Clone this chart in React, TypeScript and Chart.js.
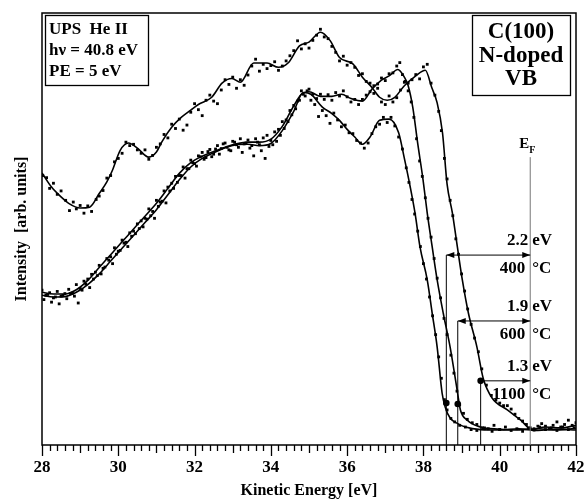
import React, { useEffect, useRef } from 'react';
import { Chart, registerables } from 'chart.js';

Chart.register(...registerables);

const FONT = '"Liberation Serif", "Times New Roman", serif';

// ---- axis ----
const xMin = 28;
const xMax = 42;
const xStep = 2;

// ---- annotation values ----
const fermiLevel = 40.8;
const gaps = [2.2, 1.9, 1.3];
const temps = ['400', '600', '1100'];
const onsetIntensity = [9.8, 9.6, 15.0];
const arrowLevels = [44.4, 29.0, 15.0];

// ---- smoothed spectra ----
const line1100X = [28.0, 28.25, 28.5, 28.7, 29.0, 29.25, 29.5, 29.7, 29.85, 30.05, 30.27, 30.5, 30.8, 31.0, 31.15, 31.4, 31.65, 31.9, 32.1, 32.45, 32.72, 32.98, 33.2, 33.55, 33.9, 34.2, 34.45, 34.75, 35.0, 35.3, 35.55, 35.8, 36.15, 36.4, 36.65, 36.85, 37.05, 37.25, 37.5, 37.8, 38.05, 38.22, 38.36, 38.5, 38.62, 38.76, 38.89, 39.02, 39.18, 39.4, 39.57, 39.8, 40.2, 40.55, 40.85, 41.2, 41.6, 42.0];
const line1100Y = [63.6, 60.3, 58.0, 56.5, 55.4, 55.6, 58.8, 61.5, 64.3, 68.9, 70.6, 69.4, 67.3, 68.5, 71.0, 74.3, 76.6, 78.3, 79.6, 81.3, 84.6, 85.7, 84.8, 89.3, 89.3, 88.3, 89.3, 93.3, 94.2, 96.5, 94.6, 90.6, 89.1, 86.0, 83.6, 81.3, 80.6, 81.3, 84.0, 86.3, 87.6, 83.5, 80.0, 73.0, 61.0, 54.2, 46.3, 38.6, 30.8, 23.0, 15.5, 11.0, 8.2, 5.8, 3.6, 4.2, 4.0, 4.6];

const line600X = [28.0, 28.3, 28.6, 28.9, 29.2, 29.5, 29.8, 30.1, 30.4, 30.7, 31.0, 31.3, 31.6, 31.9, 32.2, 32.5, 32.8, 33.1, 33.4, 33.7, 34.0, 34.3, 34.55, 34.8, 35.0, 35.3, 35.6, 35.85, 36.1, 36.4, 36.65, 36.9, 37.1, 37.33, 37.5, 37.6, 37.72, 37.85, 37.99, 38.1, 38.23, 38.36, 38.52, 38.7, 38.89, 38.97, 39.15, 39.5, 40.0, 40.4, 41.0, 41.5, 42.0];
const line600Y = [35.7, 35.3, 35.3, 36.3, 38.5, 41.5, 44.5, 47.5, 50.5, 53.5, 56.5, 60.0, 63.5, 66.0, 67.5, 68.6, 69.6, 70.4, 70.8, 70.8, 71.5, 74.5, 78.5, 82.0, 82.6, 81.5, 81.5, 82.0, 81.0, 80.4, 83.2, 85.3, 86.3, 87.8, 86.0, 84.0, 79.0, 70.5, 62.0, 54.2, 46.3, 38.6, 30.8, 22.9, 12.5, 8.2, 5.8, 4.2, 3.7, 3.5, 3.8, 3.5, 3.9];

const line400X = [28.0, 28.3, 28.6, 28.9, 29.2, 29.5, 29.8, 30.1, 30.4, 30.7, 31.0, 31.3, 31.6, 31.9, 32.2, 32.5, 32.8, 33.1, 33.4, 33.7, 34.0, 34.3, 34.6, 34.85, 35.05, 35.35, 35.6, 35.8, 36.0, 36.2, 36.4, 36.6, 36.85, 37.1, 37.35, 37.5, 37.65, 37.78, 37.91, 38.1, 38.23, 38.36, 38.49, 38.57, 38.7, 38.9, 39.1, 39.5, 40.0, 40.5, 41.0, 41.5, 42.0];
const line400Y = [35.0, 34.6, 34.7, 35.7, 37.5, 40.0, 43.0, 46.0, 49.0, 52.0, 55.0, 58.5, 62.0, 65.0, 67.0, 68.3, 69.5, 70.2, 70.3, 70.0, 70.5, 73.5, 78.0, 82.4, 82.0, 79.0, 77.5, 75.9, 73.8, 72.0, 70.3, 72.0, 75.9, 76.2, 73.0, 67.0, 60.5, 54.2, 46.3, 38.6, 30.8, 22.9, 12.1, 8.9, 6.3, 5.0, 4.2, 3.6, 3.5, 3.8, 3.4, 3.7, 3.5];

// ---- measured points ----
const dots1100 = [[28.02,63.0],[28.12,62.5],[28.2,60.0],[28.3,61.2],[28.4,58.6],[28.5,59.4],[28.62,57.2],[28.72,54.8],[28.82,56.8],[28.9,55.2],[29.0,56.0],[29.1,54.2],[29.2,55.9],[29.3,54.6],[29.42,57.4],[29.5,58.2],[29.6,59.5],[29.7,62.4],[29.8,63.0],[29.9,66.2],[30.0,67.0],[30.1,68.2],[30.2,70.8],[30.3,70.0],[30.4,70.3],[30.5,69.0],[30.6,68.2],[30.7,69.0],[30.8,66.8],[30.9,67.7],[31.0,69.6],[31.1,70.4],[31.2,72.6],[31.3,71.8],[31.4,75.0],[31.5,74.0],[31.6,76.2],[31.7,73.6],[31.8,74.8],[31.9,77.8],[32.0,79.8],[32.1,78.4],[32.2,77.0],[32.3,80.6],[32.4,81.8],[32.5,80.4],[32.6,79.8],[32.7,83.0],[32.8,85.4],[32.9,84.3],[33.0,86.0],[33.1,83.4],[33.2,85.4],[33.3,84.1],[33.4,86.5],[33.5,88.6],[33.6,90.2],[33.7,87.4],[33.8,89.0],[33.9,88.0],[34.0,88.7],[34.1,89.6],[34.2,87.6],[34.3,88.6],[34.4,89.8],[34.5,91.0],[34.6,92.2],[34.7,94.5],[34.8,92.6],[34.9,93.8],[35.0,92.8],[35.1,94.6],[35.2,95.8],[35.3,97.2],[35.4,95.4],[35.5,95.0],[35.6,93.2],[35.7,91.8],[35.8,89.8],[35.9,90.9],[36.0,88.8],[36.1,89.4],[36.2,88.3],[36.3,86.4],[36.4,86.8],[36.5,85.0],[36.6,84.6],[36.7,82.2],[36.8,83.4],[36.9,80.2],[37.0,79.6],[37.1,81.6],[37.2,80.2],[37.3,81.2],[37.4,83.0],[37.5,84.8],[37.6,84.6],[37.7,85.4],[37.8,86.6],[37.9,85.6],[38.0,88.4],[38.1,89.0],[38.2,84.6],[38.3,81.8],[38.4,78.0],[38.47,73.5],[38.55,67.0],[38.62,62.2],[38.7,57.2],[38.77,53.6],[38.85,48.2],[38.92,44.6],[39.0,40.0],[39.08,36.0],[39.16,31.8],[39.25,28.2],[39.34,25.0],[39.44,21.8],[39.53,17.8],[39.65,14.0],[39.78,11.6],[39.9,10.5],[40.0,9.8],[40.1,9.2],[40.2,9.2],[40.3,8.4],[40.4,7.2],[40.5,6.2],[40.6,5.6],[40.7,4.8],[40.8,4.0],[40.9,3.8],[41.0,4.4],[41.1,5.0],[41.2,4.4],[41.3,3.8],[41.4,4.6],[41.5,5.4],[41.6,4.2],[41.7,4.8],[41.8,5.8],[41.9,4.6],[42.0,5.2]];

const dots600 = [[28.0,36.2],[28.1,35.0],[28.2,35.6],[28.3,34.4],[28.4,35.9],[28.5,34.8],[28.6,35.4],[28.7,36.4],[28.8,35.5],[28.9,37.5],[29.0,36.6],[29.1,38.3],[29.2,38.8],[29.3,39.9],[29.4,40.4],[29.5,42.0],[29.6,41.3],[29.7,43.6],[29.8,44.0],[29.9,46.1],[30.0,45.3],[30.1,47.9],[30.2,47.4],[30.3,49.6],[30.4,50.0],[30.5,51.7],[30.6,52.4],[30.7,53.0],[30.8,55.2],[30.9,54.6],[31.0,57.2],[31.1,56.8],[31.2,59.4],[31.3,60.3],[31.4,61.2],[31.5,62.8],[31.6,63.0],[31.7,65.0],[31.8,64.6],[31.9,66.6],[32.0,65.8],[32.1,67.6],[32.2,68.4],[32.3,67.2],[32.4,69.1],[32.5,68.0],[32.6,70.0],[32.7,69.3],[32.8,70.6],[32.9,69.0],[33.0,71.0],[33.1,70.2],[33.2,71.6],[33.3,70.4],[33.4,71.3],[33.5,70.0],[33.6,71.6],[33.7,70.2],[33.8,71.8],[33.9,72.4],[34.0,71.2],[34.1,73.2],[34.2,73.8],[34.3,75.6],[34.4,76.0],[34.5,78.2],[34.6,79.4],[34.7,80.4],[34.8,82.8],[34.9,81.6],[35.0,83.2],[35.1,82.0],[35.2,81.0],[35.3,82.0],[35.4,80.8],[35.5,81.9],[35.6,80.6],[35.7,82.4],[35.8,81.6],[35.9,82.8],[36.0,81.4],[36.1,80.2],[36.2,80.8],[36.3,79.6],[36.4,80.8],[36.5,81.8],[36.6,82.6],[36.7,84.0],[36.8,84.4],[36.9,85.8],[37.0,85.2],[37.1,86.8],[37.2,87.0],[37.3,88.6],[37.38,89.4],[37.45,86.6],[37.52,85.0],[37.6,82.8],[37.68,80.2],[37.75,76.6],[37.82,71.6],[37.9,66.4],[37.97,62.8],[38.05,57.8],[38.12,53.0],[38.2,48.6],[38.28,43.6],[38.36,39.0],[38.45,34.4],[38.54,29.6],[38.62,25.8],[38.72,21.0],[38.8,16.8],[38.88,12.6],[38.95,9.4],[39.05,7.4],[39.15,6.0],[39.28,5.2],[39.4,4.8],[39.55,4.0],[39.7,3.8],[39.85,4.6],[40.0,3.6],[40.15,4.2],[40.3,3.4],[40.45,3.8],[40.6,3.2],[40.75,4.0],[40.9,3.5],[41.05,4.2],[41.2,3.6],[41.35,4.0],[41.5,3.4],[41.65,4.2],[41.8,3.6],[41.95,4.0]];

const dots400 = [[28.05,34.0],[28.15,35.2],[28.25,33.4],[28.35,34.6],[28.45,33.0],[28.55,35.0],[28.65,34.2],[28.75,35.4],[28.85,34.8],[28.95,33.2],[29.05,36.2],[29.15,37.6],[29.25,36.8],[29.35,38.8],[29.45,39.6],[29.55,40.0],[29.65,41.6],[29.75,43.2],[29.85,42.4],[29.95,44.6],[30.05,45.5],[30.15,47.2],[30.25,46.4],[30.35,48.8],[30.45,49.4],[30.55,50.6],[30.65,51.0],[30.75,52.8],[30.85,53.6],[30.95,53.0],[31.05,55.8],[31.15,57.0],[31.25,56.6],[31.35,59.4],[31.45,60.0],[31.55,61.4],[31.65,63.0],[31.75,62.4],[31.85,64.6],[31.95,66.0],[32.05,65.2],[32.15,67.4],[32.25,66.8],[32.35,68.6],[32.45,67.4],[32.55,69.2],[32.65,68.0],[32.75,70.4],[32.85,69.6],[32.95,68.8],[33.05,70.8],[33.15,69.6],[33.25,68.4],[33.35,70.6],[33.45,69.4],[33.55,67.6],[33.65,70.8],[33.75,68.8],[33.85,67.0],[33.95,69.8],[34.05,70.2],[34.15,71.0],[34.25,72.4],[34.35,74.0],[34.45,75.6],[34.55,77.2],[34.65,78.6],[34.75,80.6],[34.85,82.0],[34.95,82.8],[35.05,80.6],[35.15,79.6],[35.25,76.8],[35.35,78.2],[35.45,77.0],[35.55,75.2],[35.65,77.6],[35.75,76.0],[35.85,74.4],[35.95,74.8],[36.05,73.0],[36.15,72.8],[36.25,71.2],[36.35,70.6],[36.45,69.4],[36.55,70.6],[36.65,72.8],[36.75,74.4],[36.85,75.0],[36.95,76.6],[37.05,75.4],[37.15,76.6],[37.25,74.6],[37.35,72.0],[37.45,69.2],[37.55,64.8],[37.62,61.4],[37.7,57.4],[37.77,54.0],[37.85,50.0],[37.92,46.4],[38.0,42.4],[38.08,38.8],[38.16,34.6],[38.24,30.2],[38.32,25.8],[38.4,20.6],[38.47,15.6],[38.55,10.6],[38.62,8.2],[38.72,6.2],[38.82,5.4],[38.95,4.6],[39.1,4.2],[39.25,3.6],[39.4,3.4],[39.6,4.0],[39.8,3.2],[40.0,3.6]];

const toXY = (xs: number[], ys: number[]) => xs.map((v, i) => ({ x: v, y: ys[i] }));
const pairs = (arr: number[][]) => arr.map(([a, b]) => ({ x: a, y: b }));

const lineDs = (xs: number[], ys: number[]) => ({
  data: toXY(xs, ys),
  showLine: true,
  borderColor: '#000',
  borderWidth: 1.6,
  pointRadius: 0,
  cubicInterpolationMode: 'monotone' as const,
});
const dotDs = (arr: number[][]) => ({
  data: pairs(arr),
  showLine: false,
  pointRadius: 2,
  pointStyle: 'rect' as const,
  backgroundColor: '#000',
  borderColor: '#000',
  borderWidth: 0,
});

const annotPlugin = {
  id: 'annot',
  afterDatasetsDraw(chart: any) {
    const { ctx, chartArea: a, scales } = chart;
    const x = scales.x;
    const y = scales.y;
    ctx.save();
    ctx.fillStyle = '#000';
    ctx.strokeStyle = '#000';

    // frame
    ctx.lineWidth = 1.5;
    ctx.strokeRect(a.left, a.top, a.right - a.left, a.bottom - a.top);

    // ticks (minor 0.2, medium 1, major 2)
    ctx.lineWidth = 1.3;
    const n = Math.round((xMax - xMin) / 0.2);
    for (let i = 0; i <= n; i++) {
      const px = Math.round(x.getPixelForValue(xMin + i * 0.2)) + 0.5;
      const len = i % 10 === 0 ? 11 : i % 5 === 0 ? 8 : 6;
      ctx.beginPath();
      ctx.moveTo(px, a.bottom);
      ctx.lineTo(px, a.bottom + len);
      ctx.stroke();
    }

    // Fermi level line
    const ef = x.getPixelForValue(fermiLevel);
    ctx.strokeStyle = '#777';
    ctx.lineWidth = 1;
    ctx.beginPath();
    ctx.moveTo(ef, y.getPixelForValue(67.3));
    ctx.lineTo(ef, a.bottom);
    ctx.stroke();
    ctx.fillStyle = '#000';
    ctx.textBaseline = 'middle';
    ctx.textAlign = 'right';
    ctx.font = `bold 15px ${FONT}`;
    ctx.fillText('E', ef - 1, y.getPixelForValue(70.4));
    ctx.textAlign = 'left';
    ctx.font = `bold 10px ${FONT}`;
    ctx.fillText('F', ef - 1, y.getPixelForValue(68.8));

    // arrows
    ctx.strokeStyle = '#000';
    gaps.forEach((g, i) => {
      const ox = x.getPixelForValue(fermiLevel - g);
      const ay = y.getPixelForValue(arrowLevels[i]);
      ctx.lineWidth = 1;
      ctx.beginPath();
      ctx.moveTo(ox, ay);
      ctx.lineTo(ox, a.bottom);
      ctx.moveTo(ox, ay);
      ctx.lineTo(ef, ay);
      ctx.stroke();
      ctx.beginPath();
      ctx.moveTo(ef, ay);
      ctx.lineTo(ef - 8, ay - 3);
      ctx.lineTo(ef - 8, ay + 3);
      ctx.closePath();
      ctx.fill();
      if (i < 2) {
        ctx.beginPath();
        ctx.moveTo(ox, ay);
        ctx.lineTo(ox + 8, ay - 3);
        ctx.lineTo(ox + 8, ay + 3);
        ctx.closePath();
        ctx.fill();
      }
      ctx.beginPath();
      ctx.arc(ox, y.getPixelForValue(onsetIntensity[i]), 3.3, 0, Math.PI * 2);
      ctx.fill();
      ctx.font = `bold 17px ${FONT}`;
      ctx.textAlign = 'right';
      ctx.fillText(g.toFixed(1), ef - 2, ay - 14);
      ctx.fillText(temps[i], ef - 5, ay + 14);
      ctx.textAlign = 'left';
      ctx.fillText('eV', ef + 2, ay - 14);
      ctx.fillText('°C', ef + 2, ay + 14);
    });

    // left info box
    ctx.lineWidth = 1.3;
    ctx.strokeRect(45.5, 15.5, 103, 70);
    ctx.font = `bold 17px ${FONT}`;
    ctx.textAlign = 'left';
    ctx.fillText('UPS  He II', 49, 30);
    ctx.fillText('hν = 40.8 eV', 49, 51);
    ctx.fillText('PE = 5 eV', 49, 72);

    // right sample box
    ctx.strokeRect(472.5, 15.5, 98, 80);
    ctx.font = `bold 23px ${FONT}`;
    ctx.textAlign = 'center';
    ctx.fillText('C(100)', 521, 32);
    ctx.fillText('N-doped', 521, 56);
    ctx.fillText('VB', 521, 79);

    // axis titles
    ctx.font = `bold 16px ${FONT}`;
    ctx.textAlign = 'center';
    ctx.fillText('Kinetic Energy [eV]', (a.left + a.right) / 2, 491);
    ctx.save();
    ctx.translate(22, (a.top + a.bottom) / 2);
    ctx.rotate(-Math.PI / 2);
    ctx.fillText('Intensity  [arb. units]', 0, 0);
    ctx.restore();

    ctx.restore();
  },
};

export default function App() {
  const ref = useRef<HTMLCanvasElement | null>(null);
  useEffect(() => {
    document.body.style.margin = '0';
    const canvas = ref.current;
    if (!canvas) return;
    const chart = new Chart(canvas, {
      type: 'scatter',
      data: {
        datasets: [
          lineDs(line1100X, line1100Y),
          lineDs(line600X, line600Y),
          lineDs(line400X, line400Y),
          dotDs(dots1100),
          dotDs(dots600),
          dotDs(dots400),
        ],
      },
      options: {
        animation: false,
        responsive: false,
        devicePixelRatio: 1,
        layout: { padding: { left: 42, right: 10, top: 13, bottom: 0 } },
        plugins: { legend: { display: false }, tooltip: { enabled: false } },
        scales: {
          x: {
            type: 'linear',
            min: xMin,
            max: xMax,
            afterFit: (s: any) => {
              s.height = 55;
              s.paddingLeft = 0;
              s.paddingRight = 0;
            },
            afterBuildTicks: (s: any) => {
              const t = [];
              for (let v = xMin; v <= xMax; v += xStep) t.push({ value: v });
              s.ticks = t;
            },
            ticks: {
              color: '#000',
              font: { family: FONT, size: 17, weight: 'bold' },
              padding: 12,
              maxRotation: 0,
              autoSkip: false,
            },
            grid: { display: false, drawTicks: false },
            border: { display: false },
            title: { display: false },
          },
          y: {
            display: false,
            min: 0,
            max: 101,
          },
        },
      },
      plugins: [annotPlugin],
    });
    return () => chart.destroy();
  }, []);
  return (
    <div style={{ width: 586, height: 500, background: '#fff' }}>
      <canvas ref={ref} width={586} height={500} />
    </div>
  );
}
